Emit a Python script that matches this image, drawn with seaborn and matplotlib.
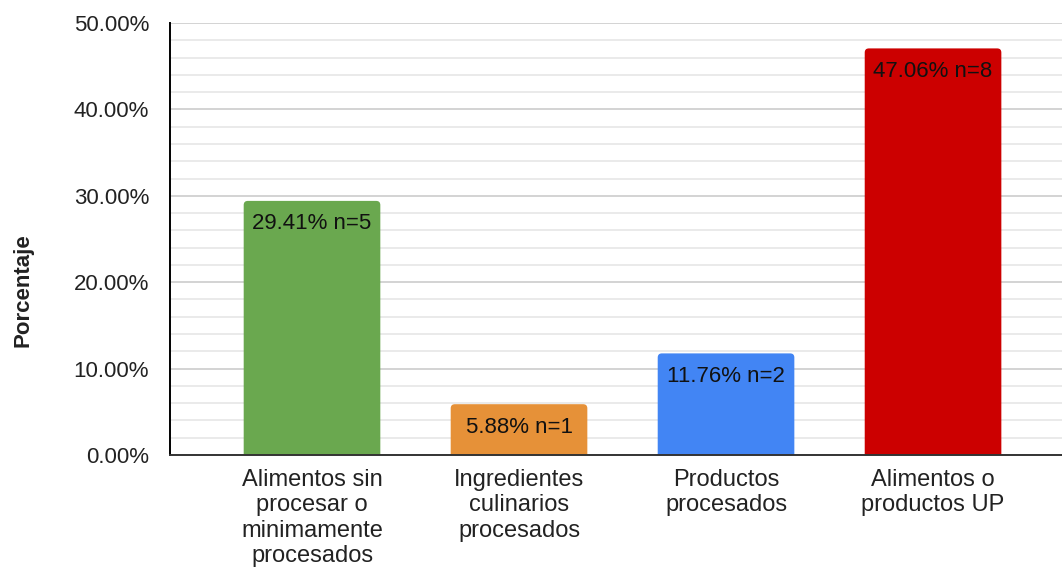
import matplotlib
matplotlib.use("Agg")
import matplotlib.pyplot as plt
import seaborn as sns
import pandas as pd
from matplotlib.ticker import MultipleLocator, FuncFormatter
from matplotlib.patches import FancyBboxPatch

categories = ["Alimentos sin\nprocesar o\nminimamente\nprocesados",
              "Ingredientes\nculinarios\nprocesados",
              "Productos\nprocesados",
              "Alimentos o\nproductos UP"]
percentages = [29.41, 5.88, 11.76, 47.06]
counts = [5, 1, 2, 8]
colors = ["#6aa84f", "#e69138", "#4285f4", "#cc0000"]

sns.set_style("white")
plt.rcParams["font.family"] = ["Liberation Sans", "DejaVu Sans"]

df = pd.DataFrame({"cat": categories, "pct": percentages})

fig = plt.figure(figsize=(10.62, 5.67), dpi=100)
ax = fig.add_axes([170/1062, 1 - 455/567, 1 - 170/1062, (455 - 23)/567])

sns.barplot(data=df, x="cat", y="pct", hue="cat", palette=colors, legend=False,
            width=0.66, ax=ax, saturation=1, edgecolor="none", zorder=3)

ax.set_ylim(0, 50)
ax.set_xlim(-0.686, 3.623)

# rounded top corners
for patch in list(ax.patches):
    x0, w, h = patch.get_x(), patch.get_width(), patch.get_height()
    fb = FancyBboxPatch((x0, -1), w, h + 1,
                        boxstyle="round,pad=0,rounding_size=0.02",
                        mutation_aspect=24, facecolor=patch.get_facecolor(),
                        edgecolor="none", zorder=3, clip_on=True)
    ax.add_patch(fb)
    patch.set_visible(False)

ax.yaxis.set_major_locator(MultipleLocator(10))
ax.yaxis.set_minor_locator(MultipleLocator(2))
ax.yaxis.set_major_formatter(FuncFormatter(lambda v, p: f"{v:.2f}%"))
ax.grid(axis="y", which="major", color="#cccccc", linewidth=1.2, zorder=0)
ax.grid(axis="y", which="minor", color="#e6e6e6", linewidth=1.2, zorder=0)
ax.set_axisbelow(True)

for s in ["top", "right"]:
    ax.spines[s].set_visible(False)
ax.spines["left"].set_color("black")
ax.spines["left"].set_linewidth(1.4)
ax.spines["bottom"].set_color("#333333")
ax.spines["bottom"].set_linewidth(1.4)
ax.spines["left"].set_zorder(4)
ax.spines["bottom"].set_zorder(4)

ax.tick_params(axis="y", which="major", direction="inout", length=16, width=1.4,
               color="black", labelsize=16, labelcolor="#222222", pad=7)
ax.tick_params(axis="y", which="minor", length=0)
ax.tick_params(axis="x", length=0, pad=10)
for lbl in ax.get_xticklabels():
    lbl.set_fontsize(17)
    lbl.set_color("#222222")
    lbl.set_linespacing(1.2)

ax.set_xlabel("")
ax.set_ylabel("Porcentaje", fontsize=16, fontweight="bold", color="#222222")
ax.yaxis.set_label_coords(-0.153, 0.382)

for i, (p, n) in enumerate(zip(percentages, counts)):
    ax.annotate(f"{p:.2f}% n={n}", xy=(i, p), xytext=(0, -16.5), textcoords="offset points",
                ha="center", va="center", fontsize=16, color="#111111", zorder=5)

fig.savefig("out.png", dpi=100)
